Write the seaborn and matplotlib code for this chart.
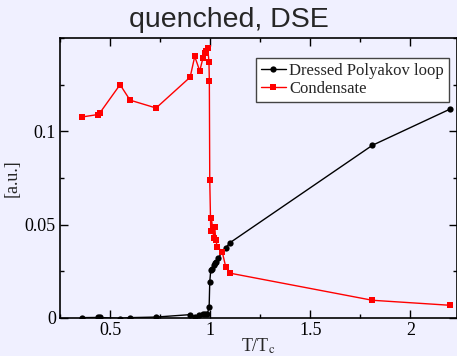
import matplotlib
matplotlib.use("Agg")
import matplotlib.pyplot as plt
import seaborn as sns
import pandas as pd
from matplotlib.ticker import MultipleLocator

# Temperature grid (T/Tc) and observables
t_polyakov = [0.36, 0.44, 0.45, 0.55, 0.60, 0.73, 0.90, 0.923, 0.944, 0.964,
              0.975, 0.985, 0.995, 0.998, 1.003, 1.01, 1.018, 1.024, 1.028,
              1.04, 1.078, 1.10, 1.81, 2.20]
polyakov = [0.0002, 0.0003, 0.0003, -0.0003, 0.0002, 0.0005, 0.0018, 0.0008,
            0.0018, 0.0020, 0.0020, 0.0020, 0.0059, 0.0193, 0.0256, 0.0265,
            0.0282, 0.0295, 0.0300, 0.0322, 0.0377, 0.0404, 0.0925, 0.1120]

t_condensate = [0.36, 0.44, 0.45, 0.55, 0.60, 0.73, 0.90, 0.923, 0.948, 0.964,
                0.974, 0.981, 0.988, 0.994, 0.996, 0.998, 1.003, 1.006, 1.018,
                1.023, 1.028, 1.036, 1.06, 1.078, 1.10, 1.81, 2.20]
condensate = [0.1077, 0.1090, 0.1100, 0.1250, 0.1167, 0.1125, 0.1290, 0.1401,
              0.1324, 0.1392, 0.1419, 0.1431, 0.1445, 0.1374, 0.1267, 0.0740,
              0.0466, 0.0537, 0.0428, 0.0488, 0.0418, 0.0380, 0.0356, 0.0273,
              0.0240, 0.0095, 0.0068]

bg = "#f0f0ff"
sns.set_theme(style="ticks")
plt.rcParams["font.family"] = ["Liberation Serif", "DejaVu Serif"]
plt.rcParams["mathtext.fontset"] = "stix"

fig = plt.figure(figsize=(4.57, 3.56), dpi=100, facecolor=bg)
ax = fig.add_axes([60 / 457, 38 / 356, 397 / 457, 280 / 356], facecolor=bg)

df_p = pd.DataFrame({"T": t_polyakov, "v": polyakov})
df_c = pd.DataFrame({"T": t_condensate, "v": condensate})

sns.lineplot(data=df_p, x="T", y="v", ax=ax, color="black", marker="o",
             markersize=4.5, markeredgewidth=0, linewidth=1.0, sort=False,
             estimator=None, label="Dressed Polyakov loop")
sns.lineplot(data=df_c, x="T", y="v", ax=ax, color="#ff0000", marker="s",
             markersize=4.5, markeredgewidth=0, linewidth=1.0, sort=False,
             estimator=None, label="Condensate")

ax.set_xlim(0.25, 2.233)
ax.set_ylim(0, 0.15)
ax.xaxis.set_major_locator(MultipleLocator(0.5))
ax.xaxis.set_minor_locator(MultipleLocator(0.25))
ax.yaxis.set_major_locator(MultipleLocator(0.05))
ax.yaxis.set_minor_locator(MultipleLocator(0.025))
ax.set_xticks([0.5, 1.0, 1.5, 2.0])
ax.set_xticklabels(["0.5", "1", "1.5", "2"])
ax.set_yticks([0, 0.05, 0.1])
ax.set_yticklabels(["0", "0.05", "0.1"])

ax.tick_params(which="both", direction="in", top=True, right=True,
               colors="black", labelsize=13, width=1.0)
ax.tick_params(which="major", length=6, pad=3)
ax.tick_params(which="minor", length=3)
for s in ax.spines.values():
    s.set_color("black")
    s.set_linewidth(1.2)

ax.set_xlabel(r"T/T$_\mathrm{c}$", fontsize=13)
ax.xaxis.set_label_coords(0.5, -0.065, transform=ax.transAxes)
ax.xaxis.label.set_va("top")
ax.set_ylabel("[a.u.]", fontsize=13)
ax.yaxis.set_label_coords(-0.1, 0.5, transform=ax.transAxes)

fig.text(0.5, 1 - 20 / 356, "quenched, DSE", ha="center", va="center",
         fontsize=20.5, family=["Liberation Sans", "DejaVu Sans"])

leg = ax.legend(loc="upper right", bbox_to_anchor=(0.98, 0.93), fontsize=12,
                frameon=True, fancybox=False, handlelength=1.5,
                handletextpad=0.2, borderpad=0.3, labelspacing=0.15,
                borderaxespad=0)
leg.get_frame().set_edgecolor("#444444")
leg.get_frame().set_linewidth(1.0)
leg.get_frame().set_facecolor("white")
leg.get_frame().set_alpha(1)

fig.savefig("out.png", dpi=100, facecolor=bg)
